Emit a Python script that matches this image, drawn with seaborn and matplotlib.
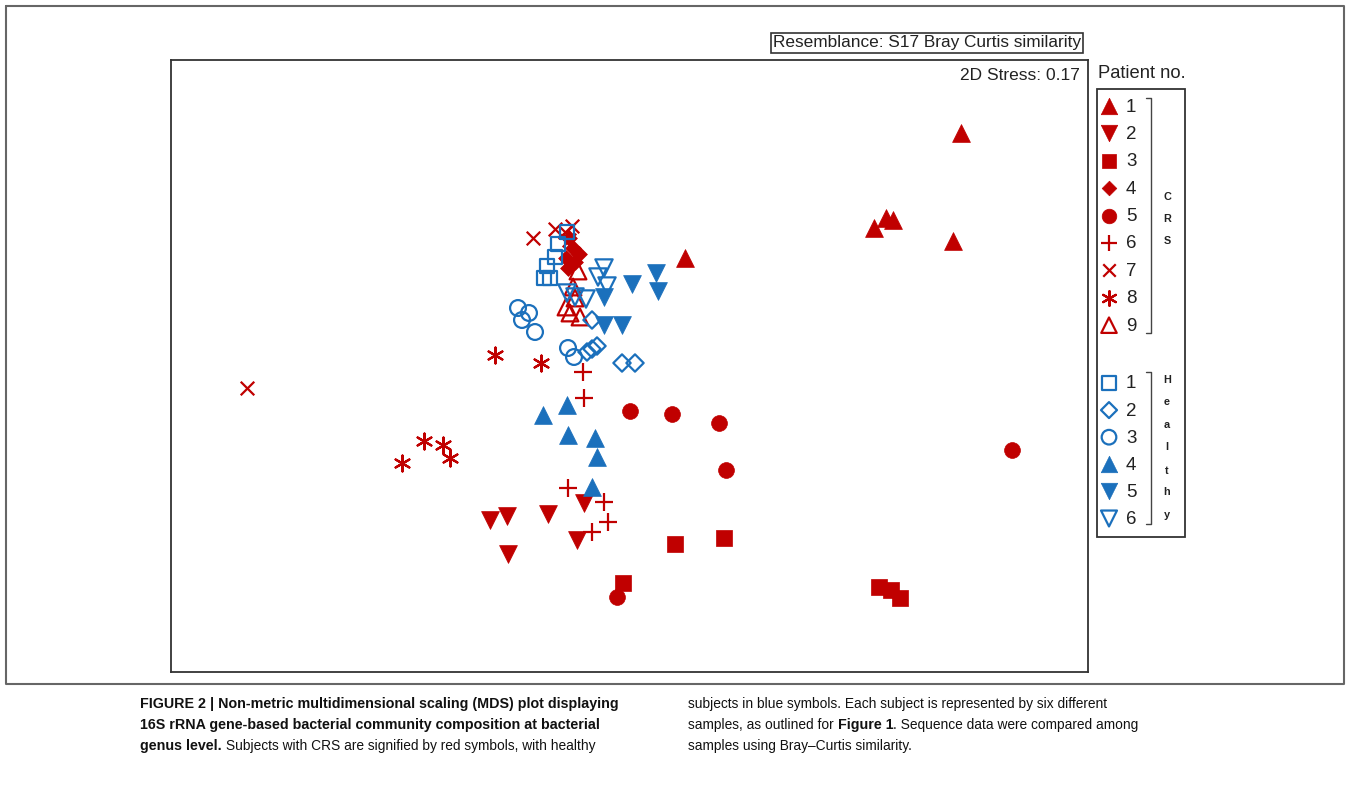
import pandas as pd
import matplotlib.pyplot as plt
import seaborn as sns

# MDS coordinates (arbitrary units, x 0-917, y 0-612)
crs_x = {
    1: [790, 715, 722, 703, 782, 514],
    2: [319, 336, 377, 413, 337, 406],
    3: [452, 504, 553, 708, 720, 729],
    4: [398, 402, 395, 404, 397, 408],
    5: [459, 501, 548, 555, 446, 841],
    6: [412, 413, 397, 433, 437, 421],
    7: [76, 362, 384, 401, 394, 398],
    8: [324, 370, 253, 272, 279, 231],
    9: [407, 402, 404, 395, 399, 409],
}
crs_y = {
    1: [539, 454, 452, 444, 431, 414],
    2: [152, 156, 158, 169, 118, 132],
    3: [89, 128, 134, 85, 82, 74],
    4: [434, 424, 414, 410, 404, 418],
    5: [261, 258, 249, 202, 75, 222],
    6: [300, 274, 184, 170, 150, 140],
    7: [284, 434, 443, 446, 440, 432],
    8: [317, 309, 231, 227, 214, 209],
    9: [401, 385, 374, 365, 359, 355],
}
healthy_x = {
    1: [396, 387, 384, 376, 373, 379],
    2: [421, 416, 421, 426, 451, 464],
    3: [347, 358, 351, 364, 397, 403],
    4: [372, 396, 397, 424, 426, 421],
    5: [433, 461, 485, 487, 433, 451],
    6: [433, 427, 436, 396, 404, 415],
}
healthy_y = {
    1: [440, 428, 415, 406, 394, 394],
    2: [352, 320, 323, 326, 309, 309],
    3: [364, 359, 352, 340, 324, 315],
    4: [257, 267, 237, 234, 215, 185],
    5: [375, 388, 399, 381, 347, 347],
    6: [404, 395, 386, 379, 375, 373],
}

RED = '#C00000'
BLUE = '#1B70BC'

# marker, filled, size
crs_style = {
    1: ('^', True, 165), 2: ('v', True, 165), 3: ('s', True, 120),
    4: ('D', True, 65), 5: ('o', True, 130), 6: ('+', False, 150),
    7: ('x', False, 95), 8: ((6, 2, 0), False, 130), 9: ('^', False, 145),
}
healthy_style = {
    1: ('s', False, 105), 2: ('D', False, 78), 3: ('o', False, 130),
    4: ('^', True, 165), 5: ('v', True, 165), 6: ('v', False, 155),
}

rows = []
for p in crs_x:
    for a, b in zip(crs_x[p], crs_y[p]):
        rows.append(['CRS', p, a, b])
for p in healthy_x:
    for a, b in zip(healthy_x[p], healthy_y[p]):
        rows.append(['Healthy', p, a, b])
df = pd.DataFrame(rows, columns=['group', 'patient', 'MDS1', 'MDS2'])

sns.set_style('white')
plt.rcParams['font.family'] = ['Liberation Sans', 'DejaVu Sans']

W, H = 1350, 800
fig = plt.figure(figsize=(13.5, 8), dpi=100)

# overlay in pixel units for frame, legend and caption
ov = fig.add_axes([0, 0, 1, 1], zorder=3)
ov.set_xlim(0, W)
ov.set_ylim(H, 0)
ov.axis('off')
ov.patch.set_alpha(0)

ax = fig.add_axes([171 / W, (H - 672) / H, 917 / W, 612 / H], zorder=2)


def draw(target, d, marker, filled, size, color):
    if filled:
        sns.scatterplot(data=d, x='MDS1', y='MDS2', ax=target, marker=marker, s=size,
                        color=color, edgecolor=color, linewidth=0.5, legend=False)
    elif marker in ('+', 'x') or isinstance(marker, tuple):
        sns.scatterplot(data=d, x='MDS1', y='MDS2', ax=target, marker=marker, s=size,
                        color=color, linewidth=1.6, legend=False)
    else:
        sns.scatterplot(data=d, x='MDS1', y='MDS2', ax=target, marker=marker, s=size,
                        color=color, facecolor='none', edgecolor=color,
                        linewidth=1.6, legend=False)


for grp, styles, col in [('CRS', crs_style, RED), ('Healthy', healthy_style, BLUE)]:
    for p, (m, f, s) in styles.items():
        sub = df[(df.group == grp) & (df.patient == p)]
        draw(ax, sub, m, f, s, col)

ax.set_xlim(0, 917)
ax.set_ylim(0, 612)
ax.set_xticks([])
ax.set_yticks([])
ax.set_xlabel('')
ax.set_ylabel('')
for sp in ax.spines.values():
    sp.set_color('#333333')
    sp.set_linewidth(1.3)
ax.text(0.991, 1 - 16 / 612, '2D Stress: 0.17', transform=ax.transAxes,
        ha='right', va='center', fontsize=12.5, color='#222222')

# outer frame
ov.plot([6, 1344, 1344, 6, 6], [6, 6, 684, 684, 6], color='#666666', lw=1.5)

# resemblance box
ov.text(927, 43, 'Resemblance: S17 Bray Curtis similarity', ha='center', va='center',
        fontsize=12.4, color='#222222',
        bbox=dict(boxstyle='square,pad=0.12', facecolor='white', edgecolor='#333333', lw=1.2))

# legend
ov.text(1142, 74, 'Patient no.', ha='center', va='center', fontsize=13.2, color='#222222')
ov.add_patch(plt.Rectangle((1097, 89), 88, 448, fill=False, edgecolor='#333333', lw=1.3))

for i, (p, (m, f, s)) in enumerate(crs_style.items()):
    yy = 106 + i * 27.4
    d = pd.DataFrame({'MDS1': [1109], 'MDS2': [yy]})
    draw(ov, d, m, f, s * 0.85, RED)
    ov.text(1126, yy + 1, str(p), ha='left', va='center', fontsize=13.5, color='#222222')
for i, (p, (m, f, s)) in enumerate(healthy_style.items()):
    yy = 383 + i * 27.1
    d = pd.DataFrame({'MDS1': [1109], 'MDS2': [yy]})
    draw(ov, d, m, f, s * 0.85, BLUE)
    ov.text(1126, yy + 1, str(p), ha='left', va='center', fontsize=13.5, color='#222222')
ov.set_xlim(0, W)
ov.set_ylim(H, 0)
ov.set_xlabel('')
ov.set_ylabel('')

# brackets
ov.plot([1146, 1151, 1151, 1146], [98, 98, 333, 333], color='#444444', lw=1)
ov.plot([1146, 1151, 1151, 1146], [372, 372, 524, 524], color='#444444', lw=1)
for ch, yy in zip('CRS', [197, 219, 241]):
    ov.text(1167, yy, ch, ha='center', va='center', fontsize=7.8, fontweight='bold', color='#222222')
for ch, yy in zip('Healthy', [380, 402, 425, 447, 471, 492, 515]):
    ov.text(1167, yy, ch, ha='center', va='center', fontsize=7.8, fontweight='bold', color='#222222')

# caption
cap = dict(fontsize=9.9, color='#111111', va='center')
bold = dict(fontsize=10.3, color='#111111', va='center', fontweight='bold')
ov.text(140, 704, 'FIGURE 2 | Non-metric multidimensional scaling (MDS) plot displaying', **bold)
ov.text(140, 725, '16S rRNA gene-based bacterial community composition at bacterial', **bold)
t1 = ov.text(140, 746, 'genus level.', **bold)
ov.annotate(' Subjects with CRS are signified by red symbols, with healthy',
            xy=(1, 0.5), xycoords=t1, **cap)
ov.text(688, 704, 'subjects in blue symbols. Each subject is represented by six different', **cap)
t2 = ov.text(688, 725, 'samples, as outlined for ', **cap)
t3 = ov.annotate('Figure 1', xy=(1, 0.5), xycoords=t2, **bold)
ov.annotate('. Sequence data were compared among', xy=(1, 0.5), xycoords=t3, **cap)
ov.text(688, 746, 'samples using Bray–Curtis similarity.', **cap)

fig.savefig('out.png', dpi=100, facecolor='white')
